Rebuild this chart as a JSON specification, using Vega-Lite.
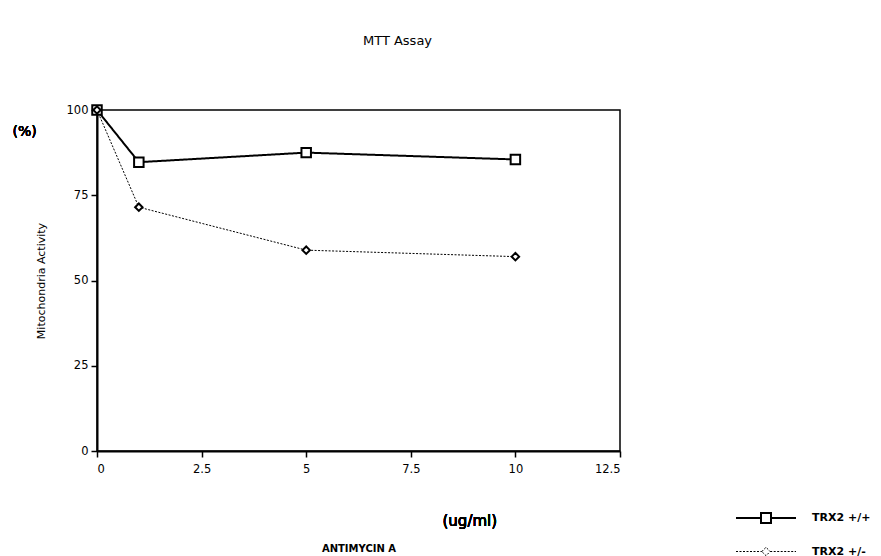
{
  "$schema": "https://vega.github.io/schema/vega-lite/v6.json",
  "width": 523,
  "height": 341,
  "autosize": {"type": "none"},
  "padding": {"left": 97, "top": 110, "right": 261, "bottom": 105},
  "background": "white",
  "title": {"text": "MTT Assay", "font": "DejaVu Sans", "fontSize": 13, "fontWeight": "normal", "color": "black", "anchor": "middle", "dx": 39, "offset": 53},
  "config": {
    "view": {"stroke": "black", "strokeWidth": 1.5},
    "font": "DejaVu Sans",
    "axis": {"grid": false, "domainColor": "black", "domainWidth": 2, "tickColor": "black", "tickWidth": 1.5, "tickSize": 6, "labelColor": "black", "labelFontSize": 11.5, "labelFont": "DejaVu Sans", "titleColor": "black", "titleFont": "DejaVu Sans", "titleFontWeight": "normal"}
  },
  "data": {"values": [
    {"series": "TRX2 +/+", "dose": 0, "activity": 100},
    {"series": "TRX2 +/+", "dose": 1, "activity": 84.7},
    {"series": "TRX2 +/+", "dose": 5, "activity": 87.5},
    {"series": "TRX2 +/+", "dose": 10, "activity": 85.5},
    {"series": "TRX2 +/-", "dose": 0, "activity": 100},
    {"series": "TRX2 +/-", "dose": 1, "activity": 71.5},
    {"series": "TRX2 +/-", "dose": 5, "activity": 58.9},
    {"series": "TRX2 +/-", "dose": 10, "activity": 57.0}
  ]},
  "encoding": {
    "x": {"field": "dose", "type": "quantitative", "scale": {"domain": [0, 12.5], "nice": false}, "axis": {"values": [0, 2.5, 5, 7.5, 10, 12.5], "labelExpr": "'' + datum.value", "title": "ANTIMYCIN A", "titleFontSize": 10, "titleFontWeight": "bold", "titlePadding": 69, "labelPadding": 6}},
    "y": {"field": "activity", "type": "quantitative", "scale": {"domain": [0, 100], "nice": false}, "axis": {"values": [0, 25, 50, 75, 100], "title": "Mitochondria Activity", "titleFontSize": 11, "titlePadding": 20, "labelPadding": 3}}
  },
  "layer": [
    {
      "mark": {"type": "line", "color": "black"},
      "encoding": {
        "strokeDash": {"field": "series", "type": "nominal", "scale": {"domain": ["TRX2 +/+", "TRX2 +/-"], "range": [[1, 0], [2, 1.5]]},
          "legend": {"title": null, "orient": "none", "legendX": 653, "legendY": 392, "padding": 0, "symbolSize": 900, "symbolStrokeColor": "black", "symbolFillColor": "white", "symbolStrokeWidth": 1.8, "labelFontSize": 11, "labelFontWeight": "bold", "labelColor": "black", "labelOffset": 30, "rowPadding": 9,
            "encode": {"symbols": {"update": {"shape": {"signal": "datum.value === 'TRX2 +/+' ? 'M-2,0L-0.333,0M0.333,0L2,0M-0.333,-0.333L0.333,-0.333L0.333,0.333L-0.333,0.333Z' : 'M-2,0L-0.28,0M0.28,0L2,0M-0.28,0L0,-0.28L0.28,0L0,0.28Z'"}}}}}},
        "strokeWidth": {"field": "series", "type": "nominal", "scale": {"domain": ["TRX2 +/+", "TRX2 +/-"], "range": [2, 1]}, "legend": null}
      }
    },
    {
      "transform": [{"filter": "datum.series === 'TRX2 +/+'"}],
      "mark": {"type": "point", "shape": "square", "size": 90, "filled": false, "stroke": "black", "fill": "white", "fillOpacity": 1, "opacity": 1, "strokeWidth": 2}
    },
    {
      "transform": [{"filter": "datum.series === 'TRX2 +/-'"}],
      "mark": {"type": "point", "shape": "diamond", "size": 55, "filled": false, "stroke": "black", "fill": "white", "fillOpacity": 1, "opacity": 1, "strokeWidth": 2}
    },
    {
      "mark": {"type": "text", "fontSize": 14, "font": "DejaVu Sans", "color": "black", "align": "center", "baseline": "middle"},
      "encoding": {"x": {"datum": -1.73}, "y": {"datum": 93.5}, "text": {"value": "(%)"}}
    },
    {
      "mark": {"type": "text", "fontSize": 15, "font": "DejaVu Sans", "color": "black", "align": "center", "baseline": "middle"},
      "encoding": {"x": {"datum": 8.91}, "y": {"datum": -20.5}, "text": {"value": "(ug/ml)"}}
    }
  ]
}
